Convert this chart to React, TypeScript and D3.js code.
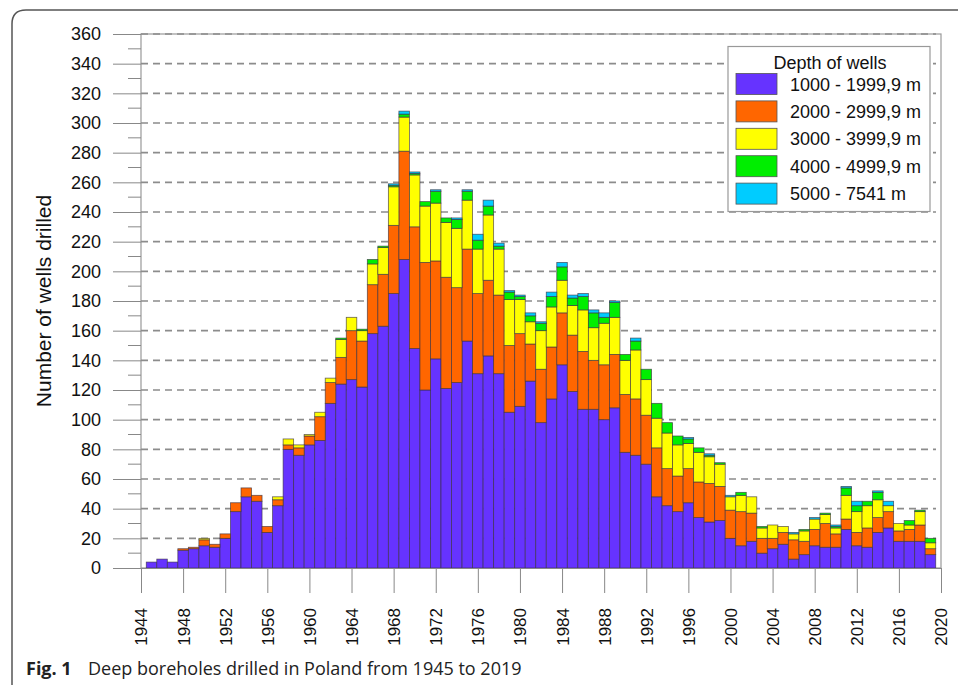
import React, { useEffect, useRef } from 'react';
import * as d3 from 'd3';

const years = d3.range(1945, 2020);

const depth1000 = [4, 6, 4, 12, 13, 15, 14, 20, 38, 48, 45, 24, 42, 80, 76, 83, 86, 111, 124, 127, 122, 158, 163, 185, 208, 148, 120, 141, 121, 125, 153, 131, 143, 131, 105, 109, 126, 98, 114, 137, 119, 107, 107, 100, 108, 78, 76, 70, 48, 42, 38, 44, 34, 31, 32, 20, 15, 18, 10, 13, 16, 6, 9, 15, 14, 14, 26, 15, 14, 24, 27, 18, 18, 18, 9];
const depth2000 = [0, 0, 0, 1, 1, 4, 2, 3, 6, 6, 4, 4, 4, 3, 5, 6, 16, 14, 18, 33, 31, 33, 35, 46, 73, 82, 86, 66, 75, 64, 62, 54, 51, 53, 45, 49, 25, 36, 35, 35, 38, 39, 33, 37, 36, 39, 38, 33, 33, 25, 24, 23, 24, 26, 23, 19, 23, 19, 10, 7, 8, 13, 9, 11, 16, 9, 7, 9, 13, 10, 11, 7, 8, 11, 4];
const depth3000 = [0, 0, 0, 0, 0, 1, 0, 0, 0, 0, 0, 0, 2, 4, 2, 1, 3, 3, 12, 9, 7, 14, 18, 26, 23, 35, 38, 39, 37, 40, 33, 30, 44, 31, 31, 23, 15, 26, 27, 22, 20, 28, 22, 28, 25, 23, 33, 24, 20, 24, 21, 17, 20, 18, 15, 9, 11, 11, 7, 9, 4, 4, 7, 7, 6, 4, 16, 14, 15, 12, 4, 5, 3, 9, 4];
const depth4000 = [0, 0, 0, 0, 0, 0, 0, 0, 0, 0, 0, 0, 0, 0, 0, 0, 0, 0, 1, 0, 1, 3, 1, 1, 2, 1, 3, 8, 3, 6, 6, 6, 6, 2, 5, 2, 4, 5, 7, 9, 5, 9, 10, 4, 10, 4, 6, 7, 10, 7, 6, 3, 3, 1, 1, 0, 2, 0, 1, 0, 0, 0, 1, 0, 1, 1, 5, 4, 3, 5, 0, 0, 3, 1, 3];
const depth5000 = [0, 0, 0, 0, 0, 0, 0, 0, 0, 0, 0, 0, 0, 0, 0, 0, 0, 0, 0, 0, 0, 0, 0, 1, 2, 1, 0, 1, 0, 1, 1, 4, 4, 2, 1, 1, 2, 1, 3, 3, 2, 2, 2, 3, 1, 0, 2, 0, 0, 0, 0, 1, 0, 1, 0, 1, 0, 0, 0, 0, 0, 1, 0, 1, 0, 1, 1, 3, 0, 1, 3, 0, 0, 0, 0];

const seriesKeys = ['d1', 'd2', 'd3', 'd4', 'd5'];
const seriesLabels = ['1000 - 1999,9 m', '2000 - 2999,9 m', '3000 - 3999,9 m', '4000 - 4999,9 m', '5000 - 7541 m'];
const seriesColors = ['#6633ff', '#ff6600', '#ffff00', '#00ee00', '#00ccff'];
const xTicks = d3.range(1944, 2021, 4);
const yTicks = d3.range(0, 361, 20);

const axisFont = '"Liberation Sans", Arial, sans-serif';

function App() {
  const ref = useRef<SVGSVGElement | null>(null);

  useEffect(() => {
    const width = 958;
    const height = 685;
    const svg = d3.select(ref.current).attr('width', width).attr('height', height);
    svg.selectAll('*').remove();

    const x = d3.scaleLinear().domain([1944, 2020]).range([141, 941]);
    const y = d3.scaleLinear().domain([0, 360]).range([568, 34]);

    const table = years.map((yr, i) => ({
      year: yr,
      d1: depth1000[i],
      d2: depth2000[i],
      d3: depth3000[i],
      d4: depth4000[i],
      d5: depth5000[i],
    }));
    const stacked = d3.stack<any>().keys(seriesKeys)(table);

    // figure frame
    svg.append('path')
      .attr('d', 'M12,685 L12,24 Q12,10 26,10 L958,10')
      .attr('fill', 'none')
      .attr('stroke', '#555')
      .attr('stroke-width', 1.5);

    // plot box
    svg.append('rect')
      .attr('x', x(1944)).attr('y', y(360))
      .attr('width', x(2020) - x(1944)).attr('height', y(0) - y(360))
      .attr('fill', 'none').attr('stroke', '#999').attr('stroke-width', 1.2);

    // grid
    svg.append('g')
      .selectAll('line')
      .data(yTicks.filter((t) => t > 0))
      .join('line')
      .attr('x1', x(1944)).attr('x2', 936)
      .attr('y1', (d) => y(d)).attr('y2', (d) => y(d))
      .attr('stroke', '#8c8c8c').attr('stroke-width', 1.6)
      .attr('stroke-dasharray', '7,5');

    // bars
    svg.append('g')
      .selectAll('g')
      .data(stacked)
      .join('g')
      .attr('fill', (_, i) => seriesColors[i])
      .selectAll('rect')
      .data((s) => s.filter((d) => d[1] - d[0] > 0))
      .join('rect')
      .attr('x', (d) => x(d.data.year - 0.5))
      .attr('width', x(1) - x(0))
      .attr('y', (d) => y(d[1]))
      .attr('height', (d) => y(d[0]) - y(d[1]))
      .attr('stroke', '#3a3040')
      .attr('stroke-opacity', 0.75)
      .attr('stroke-width', 0.8);

    // y axis
    const yAxis = svg.append('g').attr('transform', `translate(${x(1944)},0)`)
      .call(d3.axisLeft(y).tickValues(yTicks).tickSize(28).tickPadding(12));
    yAxis.select('.domain').remove();
    yAxis.selectAll('line').attr('stroke', '#888');
    yAxis.selectAll('text').attr('font-family', axisFont).attr('font-size', 18).attr('fill', '#111');
    svg.append('g')
      .selectAll('line')
      .data(d3.range(10, 360, 20))
      .join('line')
      .attr('x1', x(1944) - 13).attr('x2', x(1944))
      .attr('y1', (d) => y(d)).attr('y2', (d) => y(d))
      .attr('stroke', '#888');

    // x axis
    const xAxis = svg.append('g').attr('transform', `translate(0,${y(0)})`)
      .call(d3.axisBottom(x).tickValues(xTicks).tickFormat(d3.format('d')).tickSize(25).tickSizeOuter(0));
    xAxis.select('.domain').attr('stroke', '#888');
    xAxis.selectAll('line').attr('stroke', '#888');
    xAxis.selectAll('text')
      .attr('font-family', axisFont).attr('font-size', 17).attr('fill', '#111')
      .attr('transform', 'rotate(-90)')
      .attr('text-anchor', 'end')
      .attr('x', -40).attr('y', 0).attr('dy', '0.35em');

    // y title
    svg.append('text')
      .attr('transform', `translate(51,${(y(0) + y(360)) / 2}) rotate(-90)`)
      .attr('text-anchor', 'middle')
      .attr('font-family', axisFont).attr('font-size', 21).attr('fill', '#111')
      .text('Number of wells drilled');

    // legend
    const lg = svg.append('g');
    lg.append('rect')
      .attr('x', 728).attr('y', 46.5).attr('width', 202).attr('height', 165)
      .attr('fill', '#fff').attr('stroke', '#999').attr('stroke-width', 1.2);
    lg.append('text')
      .attr('x', 830).attr('y', 69).attr('text-anchor', 'middle')
      .attr('font-family', axisFont).attr('font-size', 18).attr('fill', '#111')
      .text('Depth of wells');
    const rows = lg.selectAll('g.row').data(seriesLabels).join('g')
      .attr('class', 'row')
      .attr('transform', (_, i) => `translate(0,${73.5 + i * 27.4})`);
    rows.append('rect')
      .attr('x', 736).attr('width', 41).attr('height', 21)
      .attr('fill', (_, i) => seriesColors[i])
      .attr('stroke', '#555').attr('stroke-width', 0.8);
    rows.append('text')
      .attr('x', 790).attr('y', 17)
      .attr('font-family', axisFont).attr('font-size', 18).attr('fill', '#111')
      .text((d) => d);

    // caption
    const cap = svg.append('text')
      .attr('x', 26).attr('y', 675)
      .attr('font-family', '"Open Sans", "Noto Sans", sans-serif').attr('font-size', 18).attr('fill', '#222');
    cap.append('tspan').attr('font-weight', 'bold').text('Fig. 1');
    cap.append('tspan').attr('x', 88).text('Deep boreholes drilled in Poland from 1945 to 2019');
  }, []);

  return (
    <div style={{ position: 'absolute', left: 0, top: 0 }}>
      <svg ref={ref} style={{ display: 'block' }}></svg>
    </div>
  );
}

export default App;
